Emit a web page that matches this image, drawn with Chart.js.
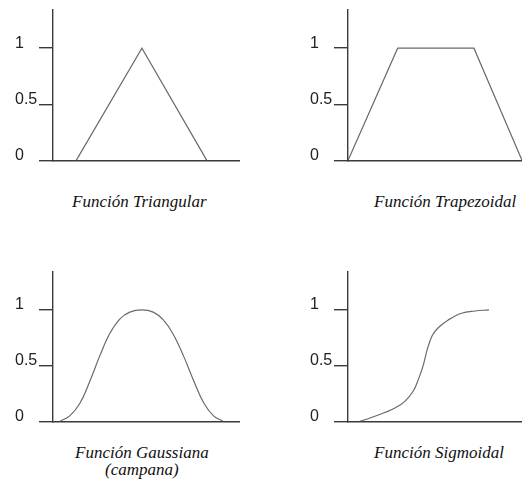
<!DOCTYPE html>
<html>
<head>
<meta charset="utf-8">
<script src="https://cdn.jsdelivr.net/npm/chart.js@4/dist/chart.umd.min.js"></script>
<style>
    html, body { margin: 0; padding: 0; background: #fff; }
    #page { position: relative; width: 522px; height: 481px; overflow: hidden; }
    .panel { position: absolute; width: 240px; height: 170px; }
    .caption {
        position: absolute;
        font-family: 'Liberation Serif', 'DejaVu Serif', serif;
        font-style: italic;
        font-size: 17px;
        line-height: 17px;
        color: #111;
        white-space: nowrap;
    }
</style>
</head>
<body>
<div id="page">
    <div class="panel" style="left:0;top:0"><canvas id="triChart" width="240" height="170"></canvas></div>
    <div class="panel" style="left:295px;top:0"><canvas id="trapChart" width="240" height="170"></canvas></div>
    <div class="panel" style="left:0;top:261px"><canvas id="gaussChart" width="240" height="170"></canvas></div>
    <div class="panel" style="left:295px;top:261px"><canvas id="sigChart" width="240" height="170"></canvas></div>

    <div class="caption" style="left:72px;top:193px">Función Triangular</div>
    <div class="caption" style="left:374px;top:193px">Función Trapezoidal</div>
    <div class="caption" style="left:75px;top:444px">Función Gaussiana</div>
    <div class="caption" style="left:105px;top:461px">(campana)</div>
    <div class="caption" style="left:374px;top:444px">Función Sigmoidal</div>
</div>

<script>
// membership degree axis
const yTickValues = [0, 0.5, 1];
const yTickLabels = ['0', '0.5', '1'];

// triangular
const triX = [1.25, 4.78, 8.27];
const triY = [0, 1, 0];

// trapezoidal
const trapX = [0, 2.67, 6.77, 9.36];
const trapY = [0, 1, 1, 0];

// gaussian (bell)
const gaussX = [0.36, 0.9, 1.44, 1.98, 2.52, 3.06, 3.6, 4.13, 4.76, 5.39, 5.93, 6.47, 7.01, 7.55, 8.09, 8.63, 9.16];
const gaussY = [0, 0.05, 0.16, 0.36, 0.59, 0.79, 0.92, 0.98, 1, 0.98, 0.91, 0.78, 0.59, 0.37, 0.17, 0.05, 0];

// sigmoid
const sigX = [0.63, 1.26, 1.98, 2.52, 3.06, 3.5, 3.77, 4.04, 4.27, 4.53, 4.85, 5.39, 6.11, 6.83, 7.58];
const sigY = [0, 0.035, 0.08, 0.12, 0.18, 0.27, 0.37, 0.5, 0.65, 0.77, 0.84, 0.91, 0.97, 0.99, 1];

const axisColor = '#3a3a3a';
const curveColor = '#6a6a6a';

function membershipChart(id, xs, ys, tension, padTop) {
    const ctx = document.getElementById(id).getContext('2d');
    return new Chart(ctx, {
        type: 'line',
        data: {
            datasets: [{
                data: xs.map((x, i) => ({ x: x, y: ys[i] })),
                borderColor: curveColor,
                borderWidth: 1.2,
                pointRadius: 0,
                fill: false,
                tension: tension
            }]
        },
        options: {
            responsive: false,
            animation: false,
            events: [],
            layout: { padding: { top: padTop, bottom: 7, left: 15, right: 1 } },
            plugins: {
                legend: { display: false },
                tooltip: { enabled: false }
            },
            scales: {
                x: {
                    type: 'linear',
                    min: 0,
                    max: 10,
                    ticks: { display: false },
                    grid: { display: false, drawTicks: false },
                    border: { color: axisColor, width: 1.4 },
                    afterFit: scale => { scale.height = 0; }
                },
                y: {
                    min: 0,
                    max: 1.34,
                    afterBuildTicks: scale => {
                        scale.ticks = yTickValues.map(v => ({ value: v }));
                    },
                    ticks: {
                        color: '#222',
                        font: { family: "'Liberation Sans', Arial, sans-serif", size: 16 },
                        crossAlign: 'far',
                        labelOffset: -5,
                        padding: 0,
                        callback: (v, i) => yTickLabels[i]
                    },
                    grid: {
                        drawOnChartArea: false,
                        tickLength: 14,
                        color: axisColor,
                        lineWidth: 1.4
                    },
                    border: { color: axisColor, width: 1.4 },
                    afterFit: scale => { scale.width = 38; }
                }
            }
        }
    });
}

membershipChart('triChart', triX, triY, 0, 10);
membershipChart('trapChart', trapX, trapY, 0, 10);
membershipChart('gaussChart', gaussX, gaussY, 0.4, 11);
membershipChart('sigChart', sigX, sigY, 0.4, 11);
</script>
</body>
</html>
